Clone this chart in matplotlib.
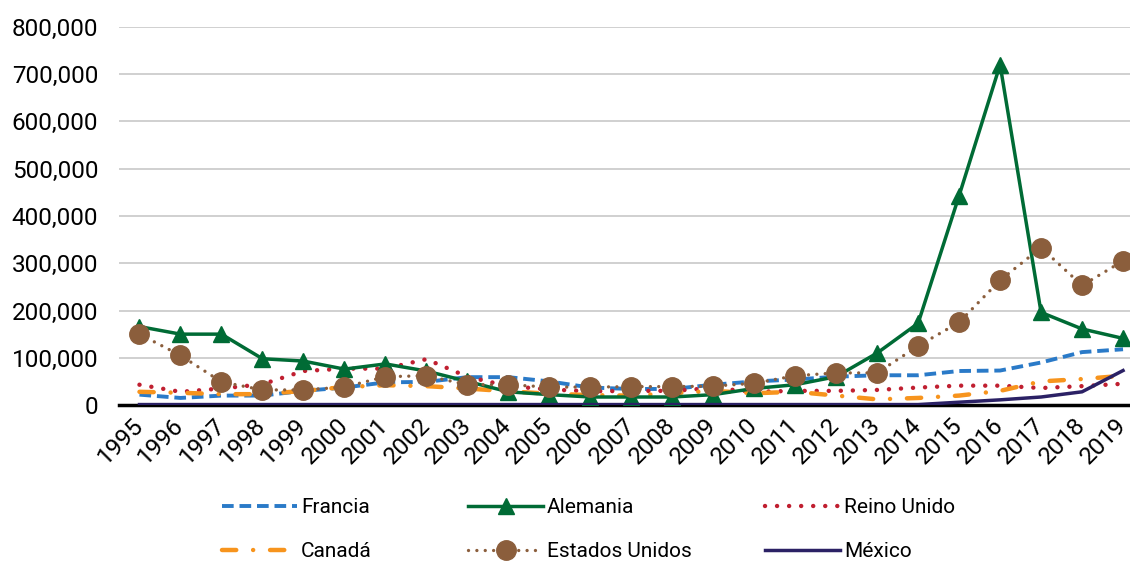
import matplotlib.pyplot as plt
from matplotlib.ticker import FuncFormatter

plt.rcParams['font.family'] = ['Roboto', 'DejaVu Sans']

# Datos
years = [str(y) for y in range(1995, 2020)]
francia = [22000, 15000, 20000, 20000, 30000, 37000, 48000, 49000, 59000, 59000, 50000, 37000, 34000,
           34000, 43000, 50000, 54000, 60000, 63000, 63000, 72000, 73000, 90000, 112000, 118000]
alemania = [166000, 150000, 150000, 98000, 93000, 76000, 87000, 72000, 50000, 28000, 22000, 17000, 17000,
            17000, 22000, 35000, 43000, 60000, 110000, 173000, 443000, 720000, 196000, 161000, 141000]
reino_unido = [43000, 28000, 35000, 44000, 72000, 77000, 77000, 97000, 60000, 40000, 33000, 29000, 30000,
               30000, 36000, 28000, 30000, 30000, 32000, 37000, 41000, 41000, 36000, 40000, 45000]
canada = [28000, 26000, 23000, 23000, 30000, 38000, 42000, 40000, 35000, 29000, 24000, 21000, 20000,
          25000, 30000, 25000, 28000, 20000, 12000, 15000, 20000, 30000, 50000, 55000, 62000]
eeuu = [150000, 105000, 49000, 32000, 32000, 38000, 60000, 62000, 43000, 43000, 38000, 38000, 39000,
        39000, 40000, 46000, 62000, 68000, 68000, 125000, 175000, 264000, 333000, 253000, 305000]
mexico = [1000] * 19 + [1000, 6000, 11000, 17000, 28000, 73000]

x = range(len(years))

fig = plt.figure(figsize=(11.3, 5.61), dpi=100)
ax = fig.add_axes([0.1053, 0.278, 0.8947, 0.674])

h_fr, = ax.plot(x, francia, color='#2A7AC8', lw=2.8, linestyle=(0, (3.0, 1.5)), label='Francia', zorder=2)
h_al, = ax.plot(x, alemania, color='#006B35', lw=2.5, marker='^', markersize=12, label='Alemania', zorder=4)
h_ru, = ax.plot(x, reino_unido, color='#C01F30', lw=3.2, linestyle=(0, (0.01, 2.7)),
                dash_capstyle='round', label='Reino Unido', zorder=3)
h_ca, = ax.plot(x, canada, color='#F7941D', lw=3.2, linestyle=(0, (3.2, 3.8, 0.01, 3.8)),
                dash_capstyle='round', label='Canadá', zorder=3)
h_us, = ax.plot(x, eeuu, color='#8B5E3C', lw=2.4, linestyle=(0, (0.01, 2.5)), dash_capstyle='round',
                marker='o', markersize=14, label='Estados Unidos', zorder=5)
h_mx, = ax.plot(x, mexico, color='#2B2165', lw=2.5, label='México', zorder=4)

ax.set_ylim(0, 800000)
ax.set_xlim(-0.5, 24.17)
ax.set_yticks(range(0, 800001, 100000))
ax.yaxis.set_major_formatter(FuncFormatter(lambda v, p: f'{int(v):,}'))
ax.set_xticks(list(x))
ax.set_xticklabels(years, rotation=45, ha='right', va='center', rotation_mode='anchor')
ax.tick_params(axis='both', length=0, labelsize=17.5)
ax.tick_params(axis='y', pad=15)
ax.tick_params(axis='x', pad=12)
ax.grid(axis='y', color='#C8C8C8', lw=1.2)
ax.set_axisbelow(True)
for s in ['top', 'right', 'left']:
    ax.spines[s].set_visible(False)
ax.spines['bottom'].set_linewidth(2.5)
ax.spines['bottom'].set_zorder(3)

# leyenda en tres columnas, colocadas una a una
cols = [([h_fr, h_ca], 222), ([h_al, h_us], 468), ([h_ru, h_mx], 765)]
for hs, px in cols:
    fig.legend(hs, [h.get_label() for h in hs], loc='upper left',
               bbox_to_anchor=(px / 1130, 1 - 498 / 561), frameon=False, fontsize=15,
               handlelength=3.6, handletextpad=0.2, labelspacing=1.2,
               borderpad=0, borderaxespad=0)

fig.savefig('out.png', dpi=100)
